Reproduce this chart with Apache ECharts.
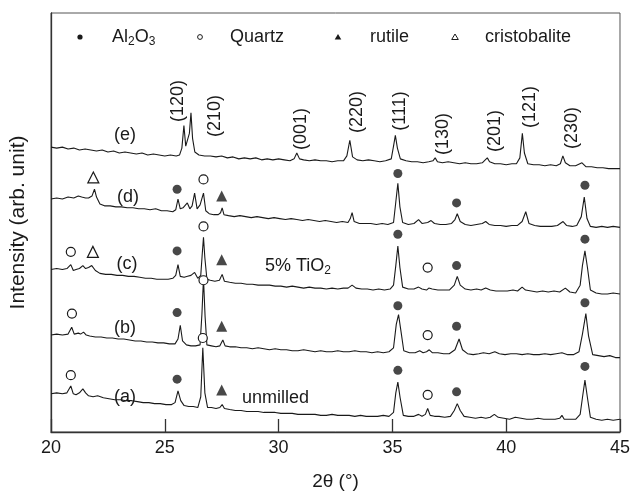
<!DOCTYPE html>
<html><head><meta charset="utf-8">
<script src="https://cdn.jsdelivr.net/npm/echarts@6/dist/echarts.min.js"></script>
<style>html,body{margin:0;padding:0;background:#fff}#c{width:633px;height:496px}</style>
</head><body><div id="c"></div>
<script>
// 2theta (deg), intensity (arb. unit, stacked offsets included)
const traceE = [[20.0,291],[20.25,290],[20.5,291],[20.75,289],[21.0,290],[21.25,288],[21.5,289],[21.75,288],[22.0,287],[22.25,288],[22.5,286],[22.75,287],[23.0,285],[23.25,286],[23.5,285],[23.75,284],[24.0,285],[24.25,283],[24.5,284],[24.75,283],[25.0,282],[25.25,283],[25.5,282],[25.65,283],[25.75,290],[25.84,313],[25.92,292],[26.0,293],[26.08,305],[26.15,326],[26.22,300],[26.32,286],[26.5,283],[26.75,282],[27.0,282],[27.25,281],[27.5,282],[27.75,280],[28.0,281],[28.25,279],[28.5,280],[28.75,279],[29.0,280],[29.25,278],[29.5,279],[29.75,278],[30.0,279],[30.25,278],[30.5,277],[30.68,279],[30.8,285],[30.92,279],[31.1,278],[31.35,277],[31.6,278],[31.85,277],[32.1,277],[32.35,276],[32.6,277],[32.85,277],[33.0,282],[33.13,298],[33.25,281],[33.45,278],[33.7,277],[33.95,278],[34.2,277],[34.45,276],[34.7,277],[34.95,279],[35.05,292],[35.13,303],[35.22,290],[35.35,279],[35.6,277],[35.85,276],[36.1,276],[36.35,275],[36.6,276],[36.78,277],[36.88,280],[36.98,276],[37.2,275],[37.45,276],[37.7,275],[37.95,274],[38.2,275],[38.45,274],[38.7,274],[38.95,275],[39.08,278],[39.17,280],[39.27,276],[39.5,274],[39.75,274],[40.0,273],[40.25,274],[40.45,274],[40.6,280],[40.71,305],[40.8,285],[40.95,274],[41.2,273],[41.45,273],[41.7,272],[41.95,273],[42.2,272],[42.38,274],[42.49,282],[42.6,275],[42.8,272],[43.05,272],[43.33,275],[43.5,271],[43.75,271],[44.0,270],[44.25,270],[44.5,269],[44.75,269],[45.0,269]];
const traceD = [[20.0,238],[20.25,239],[20.5,238],[20.75,240],[21.0,239],[21.2,241],[21.35,240],[21.43,242],[21.52,239],[21.65,239],[21.8,241],[21.91,248],[22.0,240],[22.15,233],[22.35,231],[22.6,231],[22.85,230],[23.1,230],[23.35,229],[23.6,229],[23.85,228],[24.1,228],[24.35,227],[24.6,228],[24.85,226],[25.1,226],[25.35,225],[25.48,227],[25.58,238],[25.68,228],[25.8,229],[25.99,234],[26.1,228],[26.2,231],[26.31,244],[26.42,228],[26.55,232],[26.7,244],[26.8,226],[26.95,223],[27.15,222],[27.35,222],[27.45,224],[27.52,229],[27.6,222],[27.8,221],[28.05,220],[28.3,221],[28.55,220],[28.8,219],[29.05,220],[29.3,219],[29.55,218],[29.8,219],[30.05,218],[30.3,217],[30.55,218],[30.8,217],[31.05,216],[31.3,217],[31.55,216],[31.8,215],[32.05,216],[32.3,215],[32.55,214],[32.8,215],[33.05,214],[33.15,218],[33.23,224],[33.32,215],[33.55,213],[33.8,213],[34.05,213],[34.3,212],[34.55,213],[34.8,212],[35.05,214],[35.15,235],[35.24,254],[35.33,230],[35.45,214],[35.7,212],[35.95,213],[36.15,217],[36.3,213],[36.55,214],[36.7,216],[36.85,213],[37.1,212],[37.35,212],[37.6,213],[37.75,217],[37.85,223],[37.98,215],[38.2,212],[38.45,211],[38.7,212],[38.95,213],[39.1,215],[39.25,212],[39.5,211],[39.75,211],[40.0,210],[40.25,211],[40.5,211],[40.7,215],[40.86,225],[41.0,213],[41.25,211],[41.5,210],[41.75,210],[42.0,210],[42.25,211],[42.5,215],[42.65,211],[42.9,210],[43.1,211],[43.3,220],[43.43,240],[43.55,218],[43.7,210],[43.95,209],[44.2,210],[44.45,209],[44.7,210],[45.0,209]];
const traceC = [[20.0,166],[20.25,167],[20.5,166],[20.7,167],[20.87,171],[20.98,165],[21.1,166],[21.25,167],[21.4,170],[21.52,167],[21.65,168],[21.79,170],[21.95,165],[22.15,162],[22.4,161],[22.65,161],[22.9,160],[23.15,160],[23.4,159],[23.65,159],[23.9,158],[24.15,157],[24.4,157],[24.65,156],[24.9,156],[25.15,156],[25.35,157],[25.48,160],[25.58,171],[25.68,159],[25.85,158],[26.0,159],[26.15,160],[26.31,163],[26.45,157],[26.58,160],[26.64,180],[26.7,199],[26.76,178],[26.85,156],[27.0,155],[27.2,154],[27.4,155],[27.52,161],[27.62,154],[27.85,153],[28.1,152],[28.35,152],[28.6,151],[28.85,151],[29.1,150],[29.35,150],[29.6,150],[29.85,149],[30.1,149],[30.35,148],[30.6,149],[30.85,148],[31.1,147],[31.35,148],[31.6,147],[31.85,147],[32.1,146],[32.35,147],[32.6,146],[32.85,147],[33.05,147],[33.23,150],[33.4,147],[33.65,146],[33.9,146],[34.15,145],[34.4,146],[34.65,145],[34.9,146],[35.05,150],[35.15,170],[35.24,190],[35.33,168],[35.45,148],[35.7,146],[35.95,146],[36.15,148],[36.3,146],[36.5,145],[36.6,147],[36.75,146],[37.0,145],[37.25,145],[37.5,145],[37.72,150],[37.85,159],[37.98,150],[38.2,146],[38.45,145],[38.7,146],[38.9,145],[39.1,147],[39.3,145],[39.55,144],[39.8,144],[40.05,144],[40.3,145],[40.5,144],[40.7,148],[40.85,145],[41.1,144],[41.35,143],[41.6,144],[41.85,143],[42.1,144],[42.35,143],[42.6,147],[42.8,143],[43.05,142],[43.25,150],[43.35,170],[43.46,185],[43.57,168],[43.7,145],[43.95,142],[44.2,141],[44.45,141],[44.7,142],[45.0,141]];
const traceB = [[20.0,99],[20.25,100],[20.5,99],[20.75,100],[20.91,107],[21.02,100],[21.2,101],[21.3,100],[21.43,102],[21.55,99],[21.7,98],[21.95,97],[22.2,97],[22.45,96],[22.7,96],[22.95,95],[23.2,95],[23.45,94],[23.7,93],[23.95,93],[24.2,92],[24.45,92],[24.7,91],[24.95,91],[25.2,90],[25.45,90],[25.58,95],[25.68,109],[25.78,93],[25.95,89],[26.15,88],[26.35,88],[26.55,89],[26.63,120],[26.7,157],[26.77,118],[26.85,89],[27.05,88],[27.25,87],[27.42,88],[27.55,94],[27.65,88],[27.85,87],[28.1,87],[28.35,86],[28.6,86],[28.85,85],[29.1,86],[29.35,85],[29.6,84],[29.85,85],[30.1,84],[30.35,84],[30.6,83],[30.85,83],[31.1,84],[31.35,83],[31.6,82],[31.85,83],[32.1,82],[32.35,82],[32.6,83],[32.85,82],[33.1,82],[33.35,83],[33.6,82],[33.85,82],[34.1,81],[34.35,82],[34.6,81],[34.85,82],[35.05,86],[35.17,110],[35.27,120],[35.37,104],[35.5,83],[35.75,81],[36.0,81],[36.2,83],[36.35,81],[36.5,82],[36.62,84],[36.75,81],[37.0,81],[37.25,80],[37.5,80],[37.75,84],[37.93,95],[38.08,84],[38.3,80],[38.55,79],[38.8,80],[39.0,81],[39.25,80],[39.5,82],[39.7,80],[39.95,79],[40.2,80],[40.45,80],[40.7,79],[40.95,80],[41.2,79],[41.45,79],[41.7,80],[41.95,79],[42.2,80],[42.45,81],[42.7,79],[42.95,79],[43.2,82],[43.35,100],[43.5,121],[43.62,98],[43.8,79],[44.05,78],[44.3,77],[44.55,78],[44.8,76],[45.0,76]];
const traceA = [[20.0,39],[20.25,40],[20.5,39],[20.7,40],[20.87,47],[20.98,39],[21.1,38],[21.25,40],[21.4,44],[21.52,40],[21.65,37],[21.85,36],[22.05,37],[22.3,35],[22.55,34],[22.8,33],[23.05,33],[23.3,32],[23.55,32],[23.8,31],[24.05,30],[24.3,30],[24.55,29],[24.8,29],[25.05,28],[25.3,28],[25.45,30],[25.58,42],[25.7,32],[25.85,27],[26.05,26],[26.25,26],[26.45,25],[26.58,36],[26.67,86],[26.76,40],[26.88,25],[27.05,25],[27.25,24],[27.42,25],[27.52,28],[27.62,24],[27.85,23],[28.1,22],[28.35,22],[28.6,21],[28.85,21],[29.1,21],[29.35,20],[29.6,20],[29.85,20],[30.1,19],[30.35,19],[30.6,19],[30.85,18],[31.1,18],[31.35,18],[31.6,18],[31.85,17],[32.1,17],[32.35,18],[32.6,17],[32.85,17],[33.1,17],[33.35,16],[33.6,17],[33.85,16],[34.1,16],[34.35,16],[34.6,17],[34.85,16],[35.05,20],[35.15,40],[35.24,51],[35.34,35],[35.48,17],[35.7,16],[35.95,16],[36.15,18],[36.3,16],[36.45,18],[36.55,24],[36.66,17],[36.85,16],[37.05,16],[37.3,15],[37.55,16],[37.72,22],[37.85,29],[37.98,22],[38.15,16],[38.4,15],[38.65,14],[38.9,15],[39.1,14],[39.3,15],[39.48,18],[39.65,15],[39.9,14],[40.15,13],[40.4,15],[40.65,14],[40.9,13],[41.15,13],[41.4,14],[41.65,13],[41.9,13],[42.15,13],[42.35,14],[42.45,17],[42.55,13],[42.8,13],[43.05,13],[43.25,18],[43.35,35],[43.46,53],[43.57,35],[43.7,15],[43.95,13],[44.2,12],[44.45,13],[44.7,12],[45.0,13]];

// phase markers [2theta, intensity]
const al2o3Marks = [[25.54,248],[35.24,264],[37.82,234],[43.46,252],[25.54,185],[35.24,202],[37.82,170],[43.46,197],[25.54,122],[35.24,129],[37.82,108],[43.46,132],[25.54,54],[35.24,63],[37.82,41],[43.46,67]];
const quartzMarks = [[26.70,258],[20.87,184],[26.70,210],[36.55,168],[20.92,121],[26.70,155],[36.55,99],[20.87,58],[26.67,96],[36.55,38]];
const rutileMarks = [[27.50,241],[27.50,176],[27.50,108],[27.50,43]];
const cristobaliteMarks = [[21.86,260],[21.84,184]];

const xMin = 20, xMax = 45, xStep = 5;
const yMin = 0, yMax = 428;
const xTitle = '2θ (°)';
const yTitle = 'Intensity (arb. unit)';
const traceNames = ['(a)','(b)','(c)','(d)','(e)'];
const hklLabels = ['(120)','(210)','(001)','(220)','(111)','(130)','(201)','(121)','(230)'];
const legendNames = ['Al{s|2}O{s|3}','Quartz','rutile','cristobalite'];

const FONT = '"Liberation Sans", Arial, Helvetica, sans-serif';
const INK = '#1a1a1a';

// layout (pixels) for annotations
const hklPos = [[178,101],[215,116],[301,129],[357,112],[400,111],[443,134],[495,131],[530,107],[572,128]];
const tracePos = [[125,397],[125,328],[127,264],[128,197],[125,135]];
const legendMarkPos = [[80,37],[200,37],[338,37],[455,37]];
const legendTextX = [112,230,370,485];

const chart = echarts.init(document.getElementById('c'), null, {renderer:'canvas'});
const lineSeries = (data) => ({type:'line', data, symbol:'none', smooth:false, z:2,
  lineStyle:{color:INK, width:1.1}, animation:false});
const markSeries = (data, symbol, size, filled) => ({type:'scatter', data, symbol, symbolSize:size, z:5,
  itemStyle: filled ? {color:INK} : {color:'#fff', borderColor:INK, borderWidth:1.2, opacity:1},
  animation:false});

const graphics = [];
hklLabels.forEach((t,i)=>graphics.push({type:'text', x:hklPos[i][0], y:hklPos[i][1], rotation:Math.PI/2,
  style:{text:t, font:'18px '+FONT, fill:INK, textAlign:'center', textVerticalAlign:'middle'}}));
traceNames.forEach((t,i)=>graphics.push({type:'text', x:tracePos[i][0], y:tracePos[i][1],
  style:{text:t, font:'18px '+FONT, fill:INK, textAlign:'center', textVerticalAlign:'middle'}}));
graphics.push({type:'text', x:242, y:398, style:{text:'unmilled', font:'18px '+FONT, fill:INK, textVerticalAlign:'middle'}});
graphics.push({type:'text', x:265, y:266, style:{text:'5% TiO{s|2}', font:'18px '+FONT, fill:INK, textVerticalAlign:'middle',
  rich:{s:{fontSize:12, fontFamily:FONT, padding:[10,0,0,0]}}}});
legendNames.forEach((t,i)=>graphics.push({type:'text', x:legendTextX[i], y:37,
  style:{text:t, font:'18px '+FONT, fill:INK, textVerticalAlign:'middle', rich:{s:{fontSize:12, fontFamily:FONT, padding:[10,0,0,0]}}}}));
const lm = legendMarkPos;
graphics.push({type:'circle', shape:{cx:lm[0][0], cy:lm[0][1], r:2.6}, style:{fill:INK}});
graphics.push({type:'circle', shape:{cx:lm[1][0], cy:lm[1][1], r:2.4}, style:{fill:'#fff', stroke:INK, lineWidth:1}});
graphics.push({type:'polygon', shape:{points:[[lm[2][0],lm[2][1]-3],[lm[2][0]-3.3,lm[2][1]+2.5],[lm[2][0]+3.3,lm[2][1]+2.5]]}, style:{fill:INK}});
graphics.push({type:'polygon', shape:{points:[[lm[3][0],lm[3][1]-3],[lm[3][0]-3.3,lm[3][1]+2.5],[lm[3][0]+3.3,lm[3][1]+2.5]]}, style:{fill:'#fff', stroke:INK, lineWidth:1}});

chart.setOption({
  animation:false,
  backgroundColor:'#fff',
  grid:{left:51, right:10, top:13, bottom:55, show:true, borderColor:'#555', borderWidth:1},
  xAxis:{type:'value', min:xMin, max:xMax, interval:xStep,
    name:xTitle, nameLocation:'middle', nameGap:40,
    nameTextStyle:{fontSize:19, fontFamily:FONT, color:INK},
    axisLine:{show:true, lineStyle:{color:'#333', width:1.3}},
    axisTick:{show:true, inside:true, length:13, lineStyle:{color:'#333', width:1.3}},
    axisLabel:{fontSize:18, fontFamily:FONT, color:INK, margin:7},
    splitLine:{show:false}},
  yAxis:{type:'value', min:yMin, max:yMax,
    name:yTitle, nameLocation:'middle', nameGap:22,
    nameTextStyle:{fontSize:21, fontFamily:FONT, color:INK},
    axisLine:{show:true, lineStyle:{color:'#333', width:1.3}},
    axisTick:{show:false}, axisLabel:{show:false}, splitLine:{show:false}},
  series:[
    lineSeries(traceA), lineSeries(traceB), lineSeries(traceC), lineSeries(traceD), lineSeries(traceE),
    markSeries(al2o3Marks,'circle',9,true),
    markSeries(quartzMarks,'circle',9,false),
    markSeries(rutileMarks,'triangle',11,true),
    markSeries(cristobaliteMarks,'triangle',11,false)
  ],
  graphic:graphics
});
</script></body></html>
